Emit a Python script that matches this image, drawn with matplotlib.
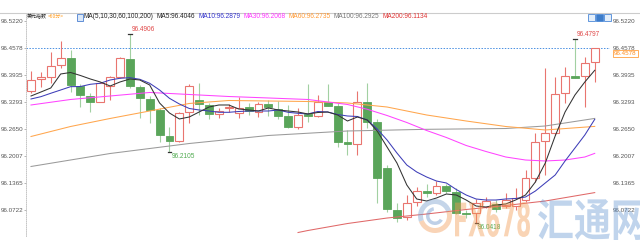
import matplotlib
matplotlib.use("Agg")
import matplotlib.pyplot as plt
from matplotlib.font_manager import FontProperties
from matplotlib.patches import Rectangle, PathPatch, Wedge
from matplotlib.lines import Line2D
from matplotlib.textpath import TextPath
from matplotlib.transforms import Affine2D, IdentityTransform, blended_transform_factory

# ---------------- data ----------------
title_name = "美元指数"
period = "<60分>"
ma_spec = "MA(5,10,30,60,100,200)"
ma_names = ["MA5", "MA10", "MA30", "MA60", "MA100", "MA200"]
ma_last = ["96.4046", "96.2879", "96.2068", "96.2735", "96.2925", "96.1134"]

opens = [96.3560, 96.3839, 96.3894, 96.4172, 96.4332, 96.3679, 96.3441, 96.3299, 96.3672, 96.3894,
         96.4315, 96.3656, 96.3363, 96.3101, 96.2482, 96.2363, 96.3046, 96.3332, 96.3220, 96.2999,
         96.3149, 96.3022, 96.3165, 96.3060, 96.3244, 96.3118, 96.2965, 96.2703, 96.2999, 96.2958,
         96.3280, 96.3196, 96.2332, 96.2291, 96.3284, 96.2808, 96.1727, 96.0720, 96.0546, 96.0917,
         96.1172, 96.1117, 96.1291, 96.1160, 96.0656, 96.0649, 96.0803, 96.0863, 96.0815, 96.0815,
         96.0958, 96.1482, 96.2363, 96.2553, 96.3494, 96.3899, 96.3910, 96.4232]
closes = [96.3815, 96.3894, 96.4156, 96.4339, 96.3696, 96.3458, 96.3299, 96.3744, 96.3887, 96.4332,
          96.3672, 96.3379, 96.3101, 96.2506, 96.2363, 96.3029, 96.3672, 96.3237, 96.2999, 96.3077,
          96.3184, 96.3156, 96.3084, 96.3244, 96.3165, 96.2965, 96.2703, 96.2982, 96.2951, 96.3280,
          96.3203, 96.2346, 96.2284, 96.3284, 96.2808, 96.1482, 96.0732, 96.0522, 96.0894, 96.1179,
          96.1132, 96.1291, 96.1172, 96.0660, 96.0618, 96.0887, 96.0934, 96.0744, 96.0958, 96.1006,
          96.1482, 96.2339, 96.2553, 96.3482, 96.3918, 96.3863, 96.4227, 96.4578]
highs = [96.4029, 96.4013, 96.4482, 96.4744, 96.4530, 96.3720, 96.3506, 96.3775, 96.3918, 96.4370,
         96.4906, 96.3696, 96.3441, 96.3149, 96.2703, 96.3053, 96.3713, 96.3737, 96.3260, 96.3141,
         96.3244, 96.3418, 96.3268, 96.3299, 96.3339, 96.3315, 96.3220, 96.3149, 96.3713, 96.3458,
         96.3720, 96.3268, 96.2625, 96.3560, 96.3737, 96.2879, 96.1791, 96.0887, 96.1077, 96.1268,
         96.1339, 96.1418, 96.1339, 96.1244, 96.0720, 96.0982, 96.1029, 96.0958, 96.1125, 96.1244,
         96.1672, 96.2553, 96.4101, 96.3887, 96.4132, 96.4797, 96.4370, 96.4578]
lows = [96.3506, 96.3656, 96.3744, 96.4108, 96.3537, 96.3179, 96.3053, 96.3284, 96.3339, 96.3856,
        96.3618, 96.2910, 96.2791, 96.2346, 96.2105, 96.2332, 96.2784, 96.2982, 96.2887, 96.2903,
        96.3053, 96.2903, 96.2982, 96.2927, 96.2958, 96.2879, 96.2665, 96.2649, 96.2822, 96.2927,
        96.3196, 96.2220, 96.2029, 96.2029, 96.2665, 96.0879, 96.0672, 96.0441, 96.0482, 96.0815,
        96.1037, 96.1077, 96.1117, 96.0625, 96.0522, 96.0418, 96.0768, 96.0672, 96.0768, 96.0720,
        96.0910, 96.1387, 96.1553, 96.2506, 96.3260, 96.3851, 96.3172, 96.3768]

ma5 = [96.3434, 96.3529, 96.3625, 96.3958, 96.3994, 96.3922, 96.3839, 96.3768, 96.3672, 96.3768,
       96.3839, 96.3815, 96.3696, 96.3268, 96.3029, 96.2887, 96.2934, 96.3053, 96.3172, 96.3220,
       96.3220, 96.3125, 96.3101, 96.3077, 96.3149, 96.3101, 96.3077, 96.3053, 96.3006, 96.3041,
       96.3053, 96.2982, 96.2839, 96.2934, 96.2863, 96.2601, 96.2220, 96.1839, 96.1315, 96.0982,
       96.0934, 96.1006, 96.1101, 96.1077, 96.0958, 96.0815, 96.0791, 96.0839, 96.0863, 96.0958,
       96.1077, 96.1387, 96.1839, 96.2482, 96.3053, 96.3458, 96.3768, 96.4046]
ma10 = [96.3363, 96.3418, 96.3499, 96.3577, 96.3656, 96.3660, 96.3713, 96.3737, 96.3815, 96.3856,
        96.3870, 96.3832, 96.3737, 96.3577, 96.3379, 96.3244, 96.3137, 96.3101, 96.3077, 96.3046,
        96.3046, 96.3065, 96.3077, 96.3077, 96.3077, 96.3101, 96.3046, 96.3022, 96.3006, 96.3065,
        96.3053, 96.2994, 96.2958, 96.2946, 96.2863, 96.2649, 96.2387, 96.2077, 96.1791, 96.1625,
        96.1506, 96.1410, 96.1363, 96.1208, 96.1077, 96.0982, 96.0958, 96.0958, 96.0982, 96.0994,
        96.1029, 96.1172, 96.1363, 96.1553, 96.1887, 96.2196, 96.2506, 96.2879]
ma30_idx = [0, 4, 8, 12, 16, 20, 24, 28, 32, 34, 36, 38, 40, 42, 44, 46, 48, 50, 52, 54, 56, 57]
ma30 = [96.3220, 96.3351, 96.3434, 96.3518, 96.3470, 96.3422, 96.3387, 96.3351, 96.3232, 96.3118,
        96.2970, 96.2803, 96.2613, 96.2446, 96.2256, 96.2113, 96.1982, 96.1910, 96.1887, 96.1910,
        96.1982, 96.2068]
ma60_idx = [0, 4, 8, 12, 16, 20, 24, 28, 32, 36, 40, 44, 48, 52, 57]
ma60 = [96.2470, 96.2708, 96.2899, 96.3077, 96.3256, 96.3327, 96.3315, 96.3303, 96.3268, 96.3172,
        96.2982, 96.2839, 96.2708, 96.2625, 96.2710]
ma100_idx = [0, 8, 16, 24, 32, 40, 48, 52, 57]
ma100 = [96.1756, 96.2065, 96.2303, 96.2494, 96.2601, 96.2641, 96.2660, 96.2720, 96.2900]
ma200_idx = [27, 28, 32, 36, 40, 44, 48, 52, 57]
ma200 = [96.0184, 96.0232, 96.0398, 96.0529, 96.0625, 96.0732, 96.0827, 96.0934, 96.1134]

y_ticks = [96.5220, 96.4578, 96.3935, 96.3293, 96.2650, 96.2007, 96.1365, 96.0722]
last_price = 96.4578
mark_idx = [10, 55, 14, 45]
mark_val = [96.4906, 96.4797, 96.2105, 96.0418]
mark_kind = ["high", "high", "low", "low"]

# ---------------- fonts ----------------
TF = ["Liberation Sans", "DejaVu Sans"]
CJK = ["Noto Sans CJK SC", "DejaVu Sans"]
FS = 4.5

# ---------------- figure ----------------
W, H = 640, 250
fig = plt.figure(figsize=(6.4, 2.5), dpi=100)
PX_L, PX_R, PX_T, PX_B = 26, 610, 13, 236
ax = fig.add_axes([PX_L / W, 1 - PX_B / H, (PX_R - PX_L) / W, (PX_B - PX_T) / H])
n = len(opens)
first_px, step_px = 31.0, 9.89
ax.set_xlim((PX_L - first_px) / step_px, (PX_R - first_px) / step_px)
ax.set_ylim(96.0101, 96.5410)

UP = "#e9756f"
DOWN = "#5aa55a"
DOWN_WICK = "#a2d0a2"
BW = 0.8

for i in range(n):
    o, h, l, c = opens[i], highs[i], lows[i], closes[i]
    lo_b, hi_b = min(o, c), max(o, c)
    if hi_b - lo_b < 0.0006:
        mid = (hi_b + lo_b) / 2
        lo_b, hi_b = mid - 0.0003, mid + 0.0003
    if c >= o:
        ax.vlines(i, l, lo_b, color=UP, lw=0.8, zorder=2)
        ax.vlines(i, hi_b, h, color=UP, lw=0.8, zorder=2)
        ax.add_patch(Rectangle((i - BW / 2, lo_b), BW, hi_b - lo_b, facecolor="white",
                               edgecolor=UP, lw=0.8, zorder=3))
    else:
        ax.vlines(i, l, h, color=DOWN_WICK, lw=0.8, zorder=2)
        ax.add_patch(Rectangle((i - BW / 2, lo_b), BW, hi_b - lo_b, facecolor=DOWN,
                               edgecolor=DOWN, lw=0.6, zorder=3))

ax.plot(ma100_idx, ma100, color="#9a9a9a", lw=0.75, zorder=4)
ax.plot(ma60_idx, ma60, color="#ffa64d", lw=0.75, zorder=4)
ax.plot(ma30_idx, ma30, color="#ff44ff", lw=0.75, zorder=4)
ax.plot(ma200_idx, ma200, color="#e06868", lw=0.75, zorder=4)
ax.plot(range(n), ma10, color="#3d3db8", lw=0.75, zorder=5)
ax.plot(range(n), ma5, color="#333333", lw=0.75, zorder=5)

ax.axhline(last_price, color="#4a90e2", lw=0.7, ls=(0, (1.5, 1.5)), zorder=1)

for i, v, kind in zip(mark_idx, mark_val, mark_kind):
    ax.plot([i - 0.15, i + 0.2], [v, v], color="#333333", lw=0.9, zorder=6)
    if kind == "high":
        ax.annotate(f"{v:.4f}", xy=(i, v), xytext=(2, 1), textcoords="offset pixels",
                    ha="left", va="bottom", fontsize=4.7, color="#e04848", family=TF, zorder=7)
    else:
        ax.annotate(f"{v:.4f}", xy=(i, v), xytext=(2, -1), textcoords="offset pixels",
                    ha="left", va="top", fontsize=4.7, color="#4faa4f", family=TF, zorder=7)

ax.set_xticks([])
ax.set_yticks(y_ticks)
ax.set_yticklabels([f"{v:.4f}" for v in y_ticks], family=TF)
ax.tick_params(axis="y", length=1.3, width=0.6, color="#aaaaaa", pad=0.5,
               labelsize=FS, labelcolor="#555555")
for s in ("top", "right", "bottom"):
    ax.spines[s].set_visible(False)
ax.spines["left"].set_linestyle((0, (1, 1.5)))
ax.spines["left"].set_color("#bbbbbb")
ax.spines["left"].set_linewidth(0.6)

sec = ax.secondary_yaxis("right")
sec.set_yticks(y_ticks)
sec.set_yticklabels([f"{v:.4f}" for v in y_ticks], family=TF)
sec.tick_params(axis="y", length=0, pad=2.2, labelsize=FS, labelcolor="#555555")
sec.spines["right"].set_visible(False)

ax.annotate(f"{last_price:.4f}", xy=(1, last_price),
            xycoords=blended_transform_factory(ax.transAxes, ax.transData),
            xytext=(4, -5.5), textcoords="offset pixels", ha="left", va="center",
            fontsize=FS, color="#ff8c1a", family=TF, annotation_clip=False, zorder=8,
            bbox=dict(boxstyle="square,pad=0.15", fc="white", ec="#ffa040", lw=0.6))

# top border
fig.add_artist(Line2D([0, 1], [1 - 13.3 / H] * 2, transform=fig.transFigure,
                      color="#cccccc", lw=0.8))

# header
renderer = fig.canvas.get_renderer()
yh = 1 - 16.8 / H
t = fig.text(27 / W, yh, title_name, fontsize=3.6, family=CJK, color="#222222", va="center")
x = 27 + t.get_window_extent(renderer).width + 0.8
fig.text(x / W, yh, period, fontsize=3.6, family=CJK, color="#ff9a1a", va="center")
fig.add_artist(Rectangle((76.5, H - 20.5), 6.5, 7, transform=IdentityTransform(),
                         facecolor="#dbe8f8", edgecolor="#4a7fd0", lw=0.6))
x = 84.0
header_pieces = [(ma_spec, "#222222")]
ma_colors = ["#222222", "#3333cc", "#ff33ff", "#ff9933", "#777777", "#e03333"]
for name, val, col in zip(ma_names, ma_last, ma_colors):
    header_pieces.append((f"{name}:{val}", col))
for txt, col in header_pieces:
    t = fig.text(x / W, yh, txt, fontsize=4.7, family=TF, color=col, va="center")
    x += t.get_window_extent(renderer).width + 3.0

# right-top icons
for k, xx in enumerate([588, 596, 604]):
    fig.add_artist(Rectangle((xx, H - 20.5), 7, 7, transform=IdentityTransform(),
                             facecolor="#3d7cc9" if k == 1 else "#e3eefa",
                             edgecolor="#4a88d8", lw=0.6))

# watermark
def text_patch(s, prop, x0, x1, ytop, ybot, color, alpha):
    tp = TextPath((0, 0), s, size=10, prop=prop)
    bb = tp.get_extents()
    tr = (Affine2D().translate(-bb.x0, -bb.y0)
          .scale((x1 - x0) / bb.width, (ybot - ytop) / bb.height)
          .translate(x0, H - ybot))
    fig.add_artist(PathPatch(tp, transform=tr, facecolor=color, edgecolor="none",
                             alpha=alpha, zorder=10))

text_patch("FX678", FontProperties(family="DejaVu Sans", weight="bold"),
           455, 530, 202, 237, "#f39a4f", 0.42)
text_patch("汇通网", FontProperties(family="Noto Sans CJK SC", weight="bold"),
           538, 645, 199, 240, "#6b9ad3", 0.42)
cx, cy = 435, H - 216
fig.add_artist(Wedge((cx, cy), 17, 20, 200, width=5, transform=IdentityTransform(),
                     facecolor="#7fa3cf", alpha=0.45, zorder=10))
fig.add_artist(Wedge((cx, cy), 17, 200, 380, width=5, transform=IdentityTransform(),
                     facecolor="#f3a060", alpha=0.45, zorder=10))
fig.add_artist(Wedge((cx, cy), 9, 100, 330, width=3.5, transform=IdentityTransform(),
                     facecolor="#6f98cc", alpha=0.45, zorder=10))

fig.savefig("out.png", dpi=100)
